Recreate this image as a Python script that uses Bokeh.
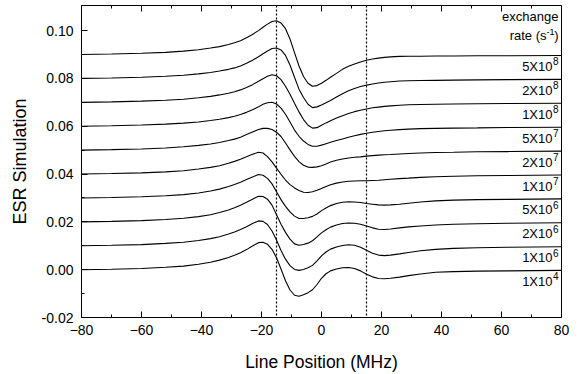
from bokeh.plotting import figure
from bokeh.models import FixedTicker, Span, NumeralTickFormatter, Range1d, BasicTickFormatter
from bokeh.embed import file_html
from bokeh.resources import INLINE
from bokeh.core.properties import value

# ---------------- data ----------------
line_position = [-80, -70, -60, -52, -46, -41, -37, -34, -31, -29, -27, -25, -23, -21, -19.5, -18,
                 -16.5, -15, -13.5, -12, -10.5, -9, -7.5, -6, -4.5, -3, -1.5, 0, 1.5, 3, 5, 7,
                 9, 11, 13, 15, 17, 19, 21, 23, 26, 29, 33, 38, 44, 52, 62, 80]

esr_5e8 = [0.0900, 0.0902, 0.0905, 0.0909, 0.0914, 0.0920, 0.0927, 0.0933, 0.0942, 0.0949, 0.0958, 0.0970,
           0.0984, 0.1000, 0.1014, 0.1027, 0.1038, 0.1041, 0.1032, 0.1008, 0.0965, 0.0908, 0.0852, 0.0808,
           0.0780, 0.0767, 0.0770, 0.0780, 0.0792, 0.0805, 0.0821, 0.0838, 0.0851, 0.0860, 0.0869, 0.0876,
           0.0881, 0.0885, 0.0888, 0.0890, 0.0892, 0.0893, 0.0893, 0.0894, 0.0894, 0.0895, 0.0895, 0.0896]
esr_2e8 = [0.0800, 0.0802, 0.0805, 0.0809, 0.0813, 0.0819, 0.0825, 0.0831, 0.0838, 0.0844, 0.0852, 0.0863,
           0.0876, 0.0891, 0.0903, 0.0915, 0.0925, 0.0927, 0.0919, 0.0896, 0.0856, 0.0805, 0.0755, 0.0720,
           0.0692, 0.0678, 0.0681, 0.0689, 0.0698, 0.0708, 0.0722, 0.0736, 0.0748, 0.0758, 0.0766, 0.0772,
           0.0777, 0.0781, 0.0784, 0.0786, 0.0789, 0.0790, 0.0791, 0.0792, 0.0793, 0.0794, 0.0795, 0.0796]
esr_1e8 = [0.0700, 0.0702, 0.0705, 0.0709, 0.0713, 0.0719, 0.0725, 0.0731, 0.0738, 0.0744, 0.0752, 0.0762,
           0.0774, 0.0788, 0.0799, 0.0809, 0.0815, 0.0811, 0.0795, 0.0767, 0.0734, 0.0696, 0.0660, 0.0628,
           0.0604, 0.0592, 0.0594, 0.0604, 0.0614, 0.0623, 0.0634, 0.0644, 0.0653, 0.0661, 0.0667, 0.0672,
           0.0677, 0.0680, 0.0683, 0.0685, 0.0688, 0.0690, 0.0691, 0.0692, 0.0693, 0.0694, 0.0695, 0.0696]
esr_5e7 = [0.0600, 0.0602, 0.0605, 0.0609, 0.0613, 0.0618, 0.0624, 0.0629, 0.0636, 0.0642, 0.0649, 0.0658,
           0.0669, 0.0681, 0.0692, 0.0698, 0.0700, 0.0693, 0.0676, 0.0650, 0.0618, 0.0584, 0.0558, 0.0538,
           0.0524, 0.0516, 0.0516, 0.0521, 0.0527, 0.0533, 0.0540, 0.0547, 0.0554, 0.0560, 0.0566, 0.0571,
           0.0575, 0.0578, 0.0581, 0.0583, 0.0586, 0.0588, 0.0590, 0.0591, 0.0592, 0.0593, 0.0595, 0.0596]
esr_2e7 = [0.0500, 0.0502, 0.0505, 0.0509, 0.0514, 0.0520, 0.0526, 0.0532, 0.0540, 0.0546, 0.0554, 0.0565,
           0.0576, 0.0586, 0.0591, 0.0591, 0.0586, 0.0575, 0.0557, 0.0530, 0.0501, 0.0474, 0.0452, 0.0437,
           0.0429, 0.0428, 0.0430, 0.0435, 0.0442, 0.0450, 0.0458, 0.0463, 0.0467, 0.0470, 0.0472, 0.0475,
           0.0477, 0.0479, 0.0481, 0.0482, 0.0484, 0.0486, 0.0488, 0.0490, 0.0491, 0.0493, 0.0494, 0.0496]
esr_1e7 = [0.0400, 0.0402, 0.0405, 0.0409, 0.0414, 0.0421, 0.0428, 0.0435, 0.0445, 0.0453, 0.0462, 0.0472,
           0.0483, 0.0491, 0.0488, 0.0473, 0.0451, 0.0425, 0.0399, 0.0375, 0.0356, 0.0342, 0.0331, 0.0324,
           0.0323, 0.0326, 0.0332, 0.0340, 0.0348, 0.0355, 0.0362, 0.0367, 0.0370, 0.0371, 0.0372, 0.0372,
           0.0373, 0.0374, 0.0376, 0.0378, 0.0381, 0.0383, 0.0386, 0.0389, 0.0391, 0.0393, 0.0394, 0.0396]
esr_5e6 = [0.0300, 0.0302, 0.0305, 0.0309, 0.0314, 0.0321, 0.0329, 0.0337, 0.0348, 0.0356, 0.0366, 0.0377,
           0.0388, 0.0398, 0.0395, 0.0382, 0.0359, 0.0326, 0.0293, 0.0265, 0.0242, 0.0224, 0.0214, 0.0214,
           0.0217, 0.0223, 0.0233, 0.0247, 0.0258, 0.0268, 0.0277, 0.0282, 0.0284, 0.0283, 0.0281, 0.0277,
           0.0274, 0.0271, 0.0270, 0.0271, 0.0274, 0.0278, 0.0283, 0.0288, 0.0291, 0.0293, 0.0294, 0.0296]
esr_2e6 = [0.0200, 0.0202, 0.0205, 0.0210, 0.0215, 0.0222, 0.0230, 0.0239, 0.0250, 0.0259, 0.0270, 0.0282,
           0.0295, 0.0307, 0.0306, 0.0295, 0.0270, 0.0230, 0.0190, 0.0156, 0.0128, 0.0108, 0.0102, 0.0105,
           0.0111, 0.0121, 0.0137, 0.0154, 0.0167, 0.0178, 0.0187, 0.0193, 0.0195, 0.0194, 0.0190, 0.0183,
           0.0175, 0.0169, 0.0168, 0.0170, 0.0175, 0.0179, 0.0183, 0.0187, 0.0190, 0.0192, 0.0194, 0.0196]
esr_1e6 = [0.0100, 0.0102, 0.0105, 0.0110, 0.0115, 0.0122, 0.0130, 0.0138, 0.0149, 0.0158, 0.0168, 0.0180,
           0.0193, 0.0204, 0.0202, 0.0189, 0.0162, 0.0124, 0.0080, 0.0044, 0.0017, 0.0001, -0.0003, 0.0001,
           0.0008, 0.0018, 0.0037, 0.0058, 0.0074, 0.0086, 0.0095, 0.0101, 0.0104, 0.0102, 0.0094, 0.0081,
           0.0069, 0.0061, 0.0059, 0.0061, 0.0066, 0.0072, 0.0079, 0.0085, 0.0089, 0.0092, 0.0094, 0.0096]
esr_1e4 = [0.0000, 0.0002, 0.0005, 0.0010, 0.0015, 0.0023, 0.0031, 0.0040, 0.0051, 0.0060, 0.0071, 0.0084,
           0.0099, 0.0113, 0.0115, 0.0106, 0.0085, 0.0050, 0.0003, -0.0046, -0.0085, -0.0107, -0.0111, -0.0105,
           -0.0096, -0.0084, -0.0062, -0.0036, -0.0017, -0.0005, 0.0003, 0.0008, 0.0009, 0.0005, -0.0005, -0.0019,
           -0.0030, -0.0037, -0.0038, -0.0036, -0.0031, -0.0025, -0.0018, -0.0011, -0.0008, -0.0006, -0.0005, -0.0003]

series = [esr_5e8, esr_2e8, esr_1e8, esr_5e7, esr_2e7, esr_1e7, esr_5e6, esr_2e6, esr_1e6, esr_1e4]
rate_mantissa = ["5X10", "2X10", "1X10", "5X10", "2X10", "1X10", "5X10", "2X10", "1X10", "1X10"]
rate_exponent = ["8", "8", "8", "7", "7", "7", "6", "6", "6", "4"]

x_ticks = [-80, -60, -40, -20, 0, 20, 40, 60, 80]
x_minor = [-70, -50, -30, -10, 10, 30, 50, 70]
y_ticks = [-0.02, 0.00, 0.02, 0.04, 0.06, 0.08, 0.10]
y_minor = [-0.01, 0.01, 0.03, 0.05, 0.07, 0.09]
marker_lines = [-15, 15]

x_min, x_max = -80, 80
y_min, y_max = -0.02, 0.1105

FONT = "Liberation Sans"

# ---------------- figure ----------------
p = figure(width=580, height=374, x_range=Range1d(x_min, x_max), y_range=Range1d(y_min, y_max),
           output_backend="svg", toolbar_location=None,
           min_border_left=81, min_border_right=19, min_border_top=5, min_border_bottom=57,
           background_fill_color="white", border_fill_color="white")
p.grid.visible = False
p.outline_line_color = "black"
p.outline_line_width = 1

def style_axis(ax, ticks, minor):
    ax.ticker = FixedTicker(ticks=ticks, minor_ticks=minor)
    ax.major_tick_in = 6
    ax.major_tick_out = 0
    ax.minor_tick_in = 3
    ax.minor_tick_out = 0
    ax.major_tick_line_color = "black"
    ax.minor_tick_line_color = "black"
    ax.axis_line_color = "black"
    ax.major_label_text_font = FONT
    ax.major_label_text_font_size = "14px"
    ax.major_label_text_color = "black"
    ax.axis_label_text_font = FONT
    ax.axis_label_text_font_style = "normal"
    ax.axis_label_text_color = "black"

xa = p.xaxis[0]
style_axis(xa, x_ticks, x_minor)
xa.formatter = BasicTickFormatter()
xa.axis_label = "Line Position (MHz)"
xa.axis_label_text_font_size = "17.5px"
xa.major_label_standoff = 7
xa.axis_label_standoff = 14

ya = p.yaxis[0]
style_axis(ya, y_ticks, y_minor)
ya.formatter = NumeralTickFormatter(format="0.00")
ya.axis_label = "ESR Simulation"
ya.axis_label_text_font_size = "18px"
ya.major_label_standoff = 8
ya.axis_label_standoff = 9

# inward ticks along the top edge of the frame (clipped to the frame)
p.rect(x=x_ticks, y=[y_max] * len(x_ticks), width=1, height=12,
       width_units="screen", height_units="screen", fill_color="black", line_color=None)
p.rect(x=x_minor, y=[y_max] * len(x_minor), width=1, height=6,
       width_units="screen", height_units="screen", fill_color="black", line_color=None)

# ---------------- marks ----------------
for vals in series:
    p.line(line_position, vals, line_color="black", line_width=1.1)

for loc in marker_lines:
    p.add_layout(Span(location=loc, dimension="height", line_color="black",
                      line_width=1.2, line_dash="2 2"))

ends = [vals[-1] for vals in series]
p.text(x=[x_max] * len(series), y=ends, text=rate_mantissa, x_offset=-9, y_offset=11,
       text_align="right", text_baseline="middle", text_font=value(FONT),
       text_font_size="13px", text_color="black")
p.text(x=[x_max] * len(series), y=ends, text=rate_exponent, x_offset=-3, y_offset=6,
       text_align="right", text_baseline="middle", text_font=value(FONT),
       text_font_size="10px", text_color="black")

p.text(x=[x_max], y=[y_max], text=["exchange"], x_offset=-3, y_offset=11,
       text_align="right", text_baseline="middle", text_font=value(FONT),
       text_font_size="13px", text_color="black")
p.text(x=[x_max], y=[y_max], text=[")"], x_offset=-3, y_offset=30,
       text_align="right", text_baseline="middle", text_font=value(FONT),
       text_font_size="13px", text_color="black")
p.text(x=[x_max], y=[y_max], text=["-1"], x_offset=-7, y_offset=26,
       text_align="right", text_baseline="middle", text_font=value(FONT),
       text_font_size="9px", text_color="black")
p.text(x=[x_max], y=[y_max], text=["rate (s"], x_offset=-15, y_offset=30,
       text_align="right", text_baseline="middle", text_font=value(FONT),
       text_font_size="13px", text_color="black")

open("out.html", "w").write(file_html(p, INLINE))
